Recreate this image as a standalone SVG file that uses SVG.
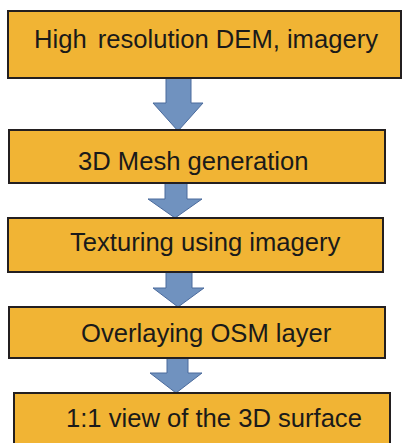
<svg xmlns="http://www.w3.org/2000/svg" width="403" height="443" viewBox="0 0 403 443">
<style>
.box{fill:#F1B434;stroke:#231F20;stroke-width:2}
.arr{fill:#7092BF;stroke:#4A6A9C;stroke-width:1}
.lbl{font-family:"Liberation Sans",Arial,sans-serif;font-size:25.6px;fill:#1A1A1A}
</style>
<rect width="403" height="443" fill="#FFFFFF"/>
<g id="connectors">
<polygon class="arr" points="166,78 191,78 191,103 203,103 178,131 153,103 166,103"/>
<polygon class="arr" points="165,183 187,183 187,199 202,199 175,218 148,199 165,199"/>
<polygon class="arr" points="166,272 192,272 192,288 204,288 178,307 153,288 166,288"/>
<polygon class="arr" points="167,358 188,358 188,373 202,373 176,393 150,373 167,373"/>
</g>
<g id="node1">
<rect class="box" x="8" y="11" width="393" height="67"/>
<text class="lbl" x="34" y="48">High <tspan dx="4">resolution DEM, imagery</tspan></text>
</g>
<g id="node2">
<rect class="box" x="9" y="130" width="376" height="53"/>
<text class="lbl" x="78" y="170">3D Mesh generation</text>
</g>
<g id="node3">
<rect class="box" x="8" y="218" width="375" height="54"/>
<text class="lbl" x="70" y="251">Texturing using imagery</text>
</g>
<g id="node4">
<rect class="box" x="9" y="307" width="376" height="51"/>
<text class="lbl" x="81" y="342">Overlaying OSM layer</text>
</g>
<g id="node5">
<rect class="box" x="14" y="393" width="376" height="60"/>
<text class="lbl" x="66" y="427">1:1 view of the 3D surface</text>
</g>
</svg>
